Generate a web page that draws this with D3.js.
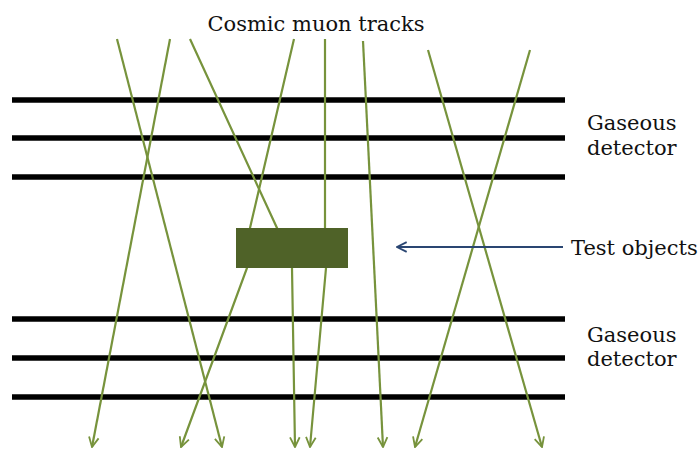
<!DOCTYPE html>
<html>
<head>
<meta charset="utf-8">
<script src="https://cdn.jsdelivr.net/npm/d3@7"></script>
<style>
  body { margin: 0; background: #fff; }
  text { font-family: "DejaVu Serif", "Liberation Serif", serif; fill: #111; }
</style>
</head>
<body>
<div id="chart"></div>
<script>
// diagram data, in drawing units (0..700 across, 0..450 down)
const detectorLayers = [100, 138, 177, 319, 358, 397];
const detectorSpan = [12, 565];
const testObject = { x0: 236, x1: 348, y0: 228, y1: 268 };

// each muon track is a list of [x, y] points, top to bottom
const muonTracks = [
  [[117, 39], [222, 447]],
  [[170, 39], [92, 447]],
  [[190, 39], [277, 228], [292, 268], [295, 447]],
  [[294, 39], [250, 228], [247, 268], [181, 447]],
  [[325, 39], [325, 228], [326, 268], [310, 447]],
  [[363, 41], [383, 447]],
  [[428, 50], [542, 447]],
  [[530, 50], [415, 447]]
];

const pointerArrow = [[563, 247], [397, 247]];

const labels = [
  { text: "Cosmic muon tracks", x: 316, y: 31, anchor: "middle" },
  { text: "Gaseous", x: 587, y: 130, anchor: "start" },
  { text: "detector", x: 587, y: 155, anchor: "start" },
  { text: "Test objects", x: 571, y: 255, anchor: "start" },
  { text: "Gaseous", x: 587, y: 342, anchor: "start" },
  { text: "detector", x: 587, y: 366, anchor: "start" }
];

const width = 700, height = 450;

var svg = d3.select("#chart").append("svg")
    .attr("width", width)
    .attr("height", height);

var x = d3.scaleLinear().domain([0, 700]).range([0, width]);
var y = d3.scaleLinear().domain([0, 450]).range([0, height]);

//arrow heads
var defs = svg.append("defs");
function addMarker(id, color) {
  defs.append("marker")
      .attr("id", id)
      .attr("viewBox", "0 0 10 10")
      .attr("refX", 9)
      .attr("refY", 5)
      .attr("markerWidth", 5.5)
      .attr("markerHeight", 5.5)
      .attr("markerUnits", "strokeWidth")
      .attr("orient", "auto")
    .append("path")
      .attr("d", "M1,1 L9,5 L1,9")
      .attr("fill", "none")
      .attr("stroke", color)
      .attr("stroke-width", 1.5);
}
addMarker("trackHead", "#77933c");
addMarker("blueHead", "#2a4672");

//detector planes
svg.append("g")
  .selectAll("line")
  .data(detectorLayers)
  .enter()
  .append("line")
    .attr("x1", x(detectorSpan[0]))
    .attr("x2", x(detectorSpan[1]))
    .attr("y1", function(d) { return y(d); })
    .attr("y2", function(d) { return y(d); })
    .attr("stroke", "#000")
    .attr("stroke-width", 5.5);

//tracks
var line = d3.line()
    .x(function(d) { return x(d[0]); })
    .y(function(d) { return y(d[1]); });

svg.append("g")
  .selectAll("path")
  .data(muonTracks)
  .enter()
  .append("path")
    .attr("d", line)
    .attr("fill", "none")
    .attr("stroke", "#77933c")
    .attr("stroke-width", 2.2)
    .attr("marker-end", "url(#trackHead)");

//test object block
svg.append("rect")
    .attr("x", x(testObject.x0))
    .attr("y", y(testObject.y0))
    .attr("width", x(testObject.x1) - x(testObject.x0))
    .attr("height", y(testObject.y1) - y(testObject.y0))
    .attr("fill", "#4f6228");

//pointer to test objects
svg.append("path")
    .attr("d", line(pointerArrow))
    .attr("fill", "none")
    .attr("stroke", "#2a4672")
    .attr("stroke-width", 2.2)
    .attr("marker-end", "url(#blueHead)");

//text labels
svg.append("g")
  .selectAll("text")
  .data(labels)
  .enter()
  .append("text")
    .attr("x", function(d) { return x(d.x); })
    .attr("y", function(d) { return y(d.y); })
    .attr("text-anchor", function(d) { return d.anchor; })
    .attr("font-size", 21)
    .text(function(d) { return d.text; });
</script>
</body>
</html>
